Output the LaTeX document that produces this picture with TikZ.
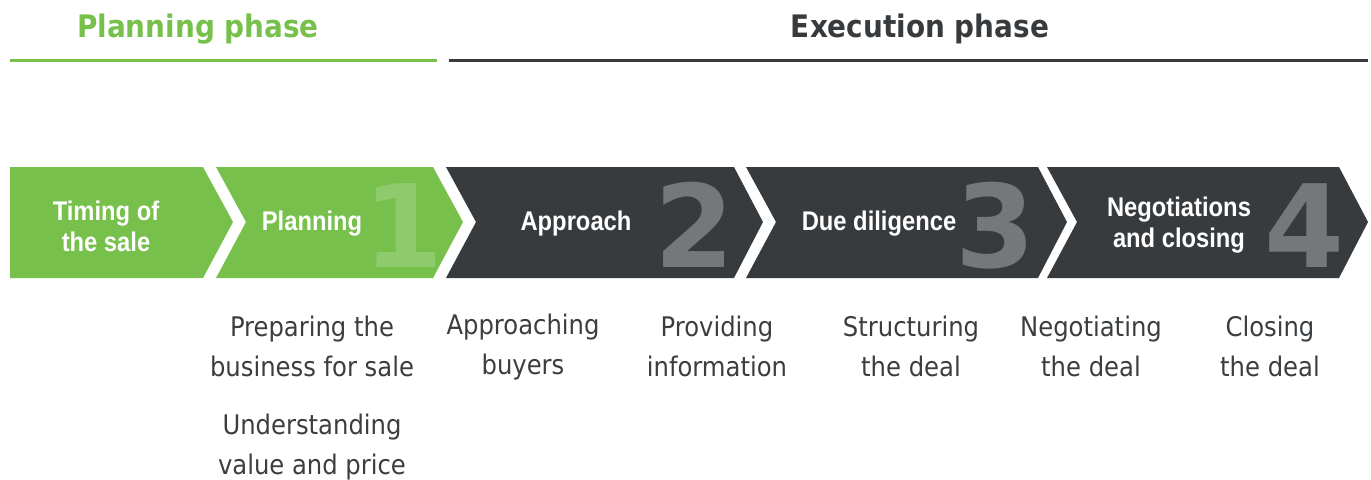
\documentclass[tikz,border=0pt]{standalone}
\usepackage{fontspec}
\setmainfont{DejaVu Sans Condensed}
\newfontfamily\bandfont[FakeStretch=0.88]{Liberation Sans}
\newfontfamily\numfont{DejaVu Sans}
\usepackage{tikz}
\usetikzlibrary{positioning}

\definecolor{phasegreen}{HTML}{77C04B}
\definecolor{numgreen}{HTML}{8DCB6C}
\definecolor{stepdark}{HTML}{383B3E}
\definecolor{numgray}{HTML}{74787B}
\definecolor{textgray}{HTML}{3B3E41}

\tikzset{
    phasetitle/.style={font=\fontsize{15.5pt}{18pt}\selectfont\bfseries, inner sep=0pt},
    bandtext/.style={text=white, align=center, inner sep=0pt,
        font=\bandfont\fontsize{13.5pt}{15.5pt}\selectfont\bfseries},
    bignum/.style={anchor=base east, inner sep=0pt,
        font=\numfont\fontsize{57.5pt}{58pt}\selectfont\bfseries},
    subtask/.style={text=textgray, align=center, inner sep=0pt,
        font=\fontsize{13.5pt}{20pt}\selectfont}
}

\begin{document}
\begin{tikzpicture}[x=0.5pt, y=-0.5pt]
    \useasboundingbox (0,0) rectangle (1371,479);

    % phase headings
    \node[phasetitle, text=phasegreen] (planphase) at (198,29) {Planning phase};
    \node[phasetitle, text=stepdark] (execphase) at (920,29) {Execution phase};
    \draw[phasegreen, line width=1.5pt] (10,60) -- (437,60);
    \draw[stepdark, line width=1.5pt] (449,60) -- (1368,60);

    % chevrons
    \fill[phasegreen] (10,167) -- (203,167) -- (233,222) -- (203,278) -- (10,278) -- cycle;
    \fill[phasegreen] (216,167) -- (433,167) -- (463,222) -- (433,278) -- (216,278) -- (246,222) -- cycle;
    \foreach \xa/\xb in {446/734, 746/1038, 1047/1339} {
        \fill[stepdark] (\xa,167) -- (\xb,167) -- ({\xb+29},222) -- (\xb,278)
            -- (\xa,278) -- ({\xa+30},222) -- cycle;
    }

    % step numbers
    \node[bignum, text=numgreen] (num1) at (444,267) {1};
    \node[bignum, text=numgray] (num2) at (735,267) {2};
    \node[bignum, text=numgray] (num3) at (1036,267) {3};
    \node[bignum, text=numgray] (num4) at (1345,267) {4};

    % step names
    \node[bandtext] (timing) at (106,226) {Timing of\\the sale};
    \node[bandtext] (planning) at (312,224) {Planning};
    \node[bandtext] (approach) at (576,224) {Approach};
    \node[bandtext] (duedil) at (879,224) {Due diligence};
    \node[bandtext] (negclose) at (1179,225) {Negotiations\\and closing};

    % tasks below
    \node[subtask] (prepare) at (312,346) {Preparing the\\business for sale};
    \node[subtask] (value) at (312,447) {Understanding\\value and price};
    \node[subtask] (buyers) at (523,347) {Approaching\\buyers};
    \node[subtask] (info) at (717,346) {Providing\\information};
    \node[subtask] (structure) at (911,346) {Structuring\\the deal};
    \node[subtask] (negotiate) at (1091,346) {Negotiating\\the deal};
    \node[subtask] (closing) at (1270,346) {Closing\\the deal};
\end{tikzpicture}
\end{document}
